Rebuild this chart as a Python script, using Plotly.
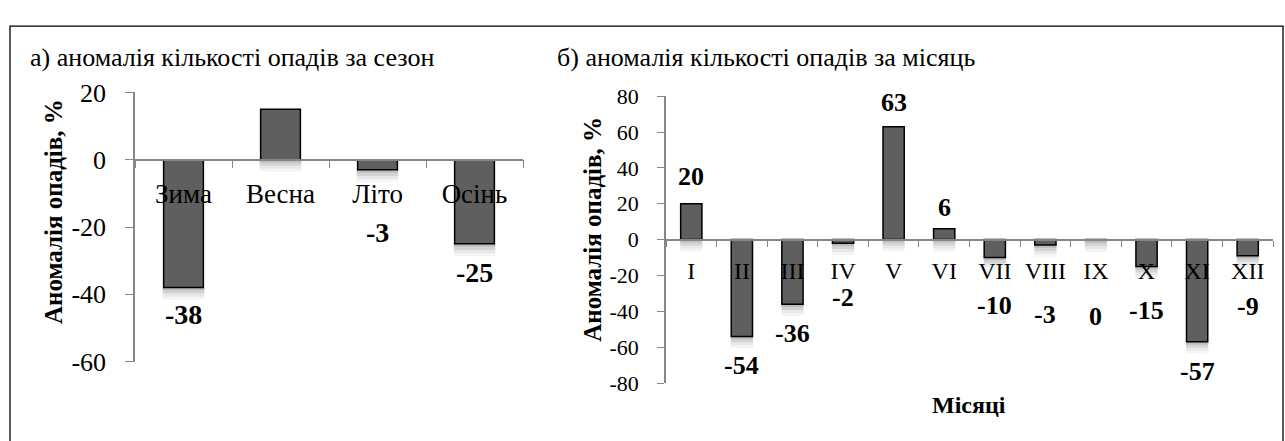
import plotly.graph_objects as go

# ---------------- data ----------------
seasons = ["Зима", "Весна", "Літо", "Осінь"]
season_values = [-38, 15, -3, -25]
season_label_y = [-46, 20.8, -21.5, -33.5]      # where value labels sit (data units)

months = ["I", "II", "III", "IV", "V", "VI", "VII", "VIII", "IX", "X", "XI", "XII"]
month_values = [20, -54, -36, -2, 63, 6, -10, -3, -0.4, -15, -57, -9]
month_label_y = [35, -70, -52.5, -32.5, 76.5, 18, -36.5, -41.5, -43, -39.5, -73.5, -37.5]

left_ticks = [20, 0, -20, -40, -60]
right_ticks = [80, 60, 40, 20, 0, -20, -40, -60, -80]

title_a = "а) аномалія кількості опадів за сезон"
title_b = "б) аномалія кількості опадів за місяць"
ytitle = "Аномалія опадів, %"
xtitle_b = "Місяці"

W, H = 1285, 441
FONT = "Liberation Serif"
BAR = "#5f5f5f"
AX = "#868686"

def px(x):
    return x / W

def py(y):
    return (H - y) / H

fig = go.Figure()

# soft drop shadows below each bar end (layers of decreasing opacity)
shadow_layers = [(0.0, 0.3, 0.26), (0.3, 0.6, 0.17), (0.6, 0.9, 0.09), (0.9, 1.2, 0.04)]
for xs, vals, unit, xa, ya, w in [(seasons, season_values, 3.0, "x", "y", 0.43),
                                  (months, month_values, 5.5, "x2", "y2", 0.44)]:
    for a, b, op in shadow_layers:
        fig.add_trace(go.Bar(
            x=xs, y=[-(b - a) * unit] * len(vals),
            base=[min(v, 0) - a * unit for v in vals], width=w,
            marker=dict(color=f"rgba(0,0,0,{op})", line=dict(width=0)),
            xaxis=xa, yaxis=ya, showlegend=False, hoverinfo="skip"))

fig.add_trace(go.Bar(
    x=seasons, y=season_values, width=0.41,
    marker=dict(color=BAR, line=dict(color="#000000", width=1.5)),
    xaxis="x", yaxis="y", showlegend=False, hoverinfo="skip"))

fig.add_trace(go.Bar(
    x=months, y=month_values, width=0.42,
    marker=dict(color=BAR, line=dict(color="#000000", width=1.5)),
    xaxis="x2", yaxis="y2", showlegend=False, hoverinfo="skip"))

ann = []
for c, v, ly in zip(seasons, season_values, season_label_y):
    ann.append(dict(x=c, y=ly, xref="x", yref="y", text=f"<b>{round(v):d}</b>",
                    xanchor="center", yanchor="middle",
                    showarrow=False, font=dict(family=FONT, size=28, color="#000")))
for c, v, ly in zip(months, month_values, month_label_y):
    ann.append(dict(x=c, y=ly, xref="x2", yref="y2", text=f"<b>{round(v):d}</b>",
                    xanchor="center", yanchor="middle",
                    showarrow=False, font=dict(family=FONT, size=26, color="#000")))

ann += [
    dict(x=px(28), y=py(47), xref="paper", yref="paper", xanchor="left", yanchor="middle",
         text=title_a, showarrow=False, font=dict(family=FONT, size=26, color="#000")),
    dict(x=px(555), y=py(47), xref="paper", yref="paper", xanchor="left", yanchor="middle",
         text=title_b, showarrow=False, font=dict(family=FONT, size=26, color="#000")),
    dict(x=px(53), y=py(212), xref="paper", yref="paper", textangle=-90,
         xanchor="center", yanchor="middle",
         text="<b>" + ytitle + "</b>", showarrow=False,
         font=dict(family=FONT, size=25, color="#000")),
    dict(x=px(593), y=py(231), xref="paper", yref="paper", textangle=-90,
         xanchor="center", yanchor="middle",
         text="<b>" + ytitle + "</b>", showarrow=False,
         font=dict(family=FONT, size=25, color="#000")),
    dict(x=px(969), y=py(419), xref="paper", yref="paper",
         xanchor="center", yanchor="middle",
         text="<b>" + xtitle_b + "</b>", showarrow=False,
         font=dict(family=FONT, size=24, color="#000")),
]

fig.update_layout(
    width=W, height=H,
    margin=dict(l=0, r=0, t=0, b=0),
    paper_bgcolor="white", plot_bgcolor="rgba(0,0,0,0)",
    barmode="overlay",
    annotations=ann,
    shapes=[dict(type="rect", xref="paper", yref="paper",
                 x0=px(10), x1=px(1283), y0=-0.1, y1=py(13),
                 line=dict(color="#000", width=1.3), layer="below")],
    xaxis=dict(domain=[px(135), px(523)], anchor="free", position=py(156),
               showline=True, linecolor=AX, linewidth=1.5,
               ticks="outside", tickson="boundaries", ticklen=8, tickcolor=AX,
               tickangle=0,
               tickfont=dict(family=FONT, size=27, color="#000"),
               ticklabelstandoff=10, showgrid=False, zeroline=False, fixedrange=True),
    yaxis=dict(domain=[py(372), py(84)], range=[-60, 20], anchor="x",
               tickvals=left_ticks, ticktext=[str(t) for t in left_ticks],
               showline=True, linecolor=AX, linewidth=1.5,
               ticks="outside", ticklen=8, tickcolor=AX, ticklabelstandoff=14,
               tickfont=dict(family=FONT, size=26, color="#000"),
               showgrid=False, zeroline=False, fixedrange=True),
    xaxis2=dict(domain=[px(666), px(1273)], anchor="free", position=py(242),
                showline=True, linecolor=AX, linewidth=1.5,
                ticks="outside", tickson="boundaries", ticklen=6, tickcolor=AX,
                tickangle=0,
                tickfont=dict(family=FONT, size=24, color="#000"),
                ticklabelstandoff=9, showgrid=False, zeroline=False, fixedrange=True),
    yaxis2=dict(domain=[py(395), py(88)], range=[-80, 80], anchor="x2",
                tickvals=right_ticks, ticktext=[str(t) for t in right_ticks],
                showline=True, linecolor=AX, linewidth=1.5,
                ticks="outside", ticklen=7, tickcolor=AX, ticklabelstandoff=14,
                tickfont=dict(family=FONT, size=22, color="#000"),
                showgrid=False, zeroline=False, fixedrange=True),
)

fig.write_html("out.html", config={"displayModeBar": False},
               post_script="document.body.style.margin='0';document.body.style.overflow='hidden';")
